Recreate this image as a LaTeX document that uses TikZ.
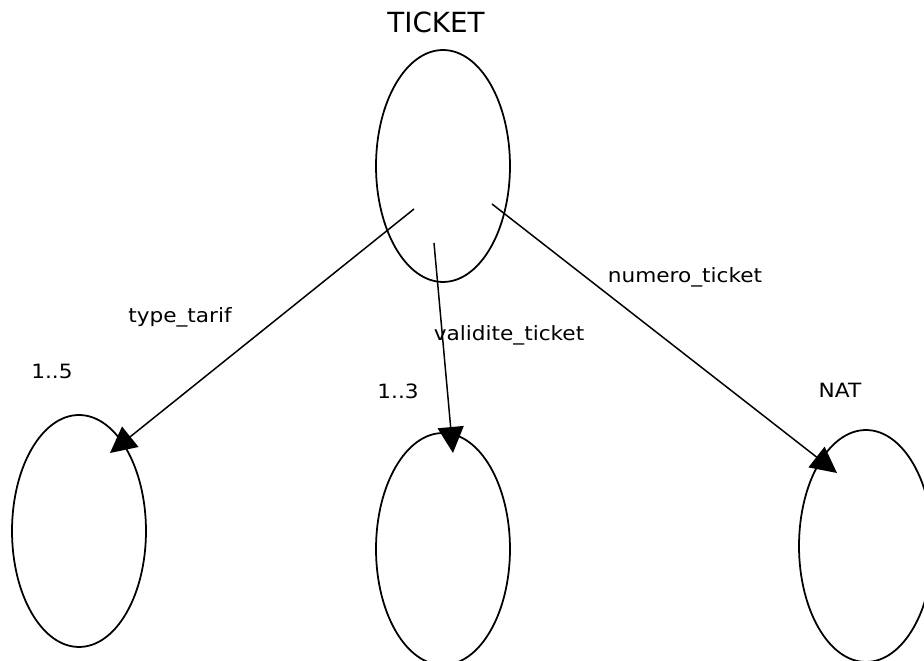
\documentclass[tikz,border=0pt]{standalone}
\usepackage{fontspec}
\setmainfont{DejaVu Sans}
\newfontfamily\lblfont{DejaVu Sans}[FakeStretch=1.1]
\usetikzlibrary{shapes.geometric,arrows.meta,calc}

\begin{document}
\begin{tikzpicture}[x=0.02cm,y=-0.02cm,
  dom/.style={ellipse,draw,line width=1pt,inner sep=0pt,minimum width=2.68cm,minimum height=4.64cm},
  lbl/.style={anchor=base,inner sep=0pt,font=\lblfont\fontsize{11.2}{13}\selectfont},
  rel/.style={line width=0.85pt,-{Triangle[length=0.52cm,width=0.52cm]}}]
  \useasboundingbox (0,0) rectangle (924,661);
  %\draw[help lines] (0,0) grid (924,661);
\path
(443,166) node [dom] (ticket) {}
(79,531) node [dom] (tarif) {}
(443,549) node [dom] (validite) {}
(866,546) node [dom] (numero) {}
;
\node [anchor=base,inner sep=0pt,font=\fontsize{15.8}{18}\selectfont] (lblTicket) at (436,33) {TICKET};
\node [lbl] (lblTarif) at (180,323) {type\_tarif};
\node [lbl] (lblValidite) at (509,341) {validite\_ticket};
\node [lbl] (lblNumero) at (685,283) {numero\_ticket};
\node [lbl] (dTarif) at (52,379) {1..5};
\node [lbl] (dValidite) at (398,399) {1..3};
\node [lbl] (dNumero) at (840,398) {NAT};
\coordinate (outTarif) at ($(ticket)+(-29,43)$);
\coordinate (outValidite) at ($(ticket)+(-9,77)$);
\coordinate (outNumero) at ($(ticket)+(49,38)$);
\coordinate (inTarif) at ($(tarif)+(31,-78)$);
\coordinate (inValidite) at ($(validite)+(10,-96)$);
\coordinate (inNumero) at ($(numero)+(-29,-73)$);
\draw[rel] (outTarif) -- (inTarif);
\draw[rel] (outValidite) -- (inValidite);
\draw[rel] (outNumero) -- (inNumero);
\end{tikzpicture}
\end{document}
